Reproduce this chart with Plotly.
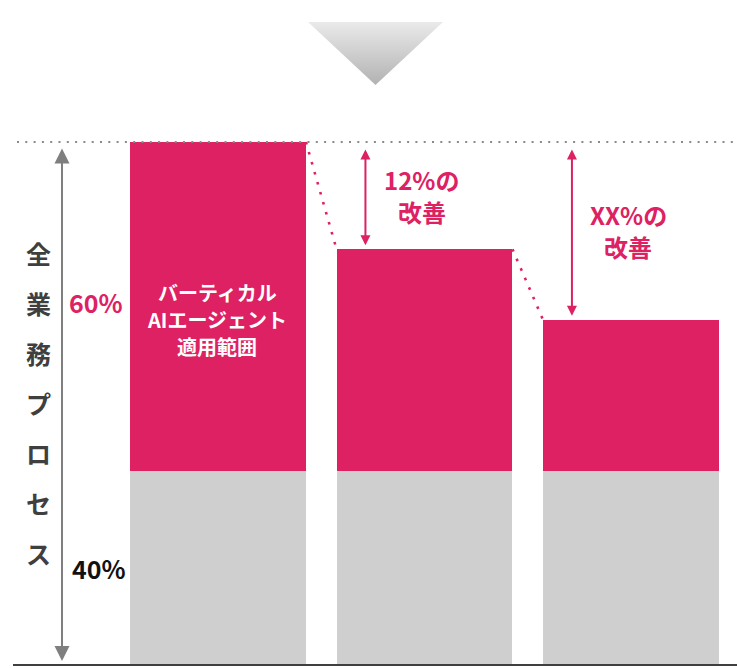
import plotly.graph_objects as go

# ---------------- data ----------------
categories = ["現状", "改善1", "改善2"]
base_values = [37, 37, 37]            # 40% 部分（グレー）
vertical_values = [63, 42.5, 29]      # バーティカルAIエージェント適用範囲（ピンク）
share_labels = ["60%", "40%"]
improve_labels = [["12%の", "改善"], ["XX%の", "改善"]]
axis_title_chars = list("全業務プロセス")
bar_inner_lines = ["バーティカル", "AIエージェント", "適用範囲"]

# ---------------- styles ----------------
PINK = "#DD2163"
GRAY_BAR = "#CFCFCF"
ARROW_GRAY = "#7F7F7F"
DARK = "#3F3F3F"
FONT = "Noto Sans CJK JP"
BAR_W = 0.852
W, H = 737, 668

totals = [b + v for b, v in zip(base_values, vertical_values)]
top = totals[0]
xs = list(range(len(categories)))

fig = go.Figure()
fig.add_trace(go.Bar(x=xs, y=base_values, width=BAR_W, marker=dict(color=GRAY_BAR, line=dict(width=0)),
                     hoverinfo="skip"))
fig.add_trace(go.Bar(x=xs, y=vertical_values, width=BAR_W, marker=dict(color=PINK, line=dict(width=0)),
                     hoverinfo="skip"))

# decorative triangle (pixel overlay axes)
tri_x = [308, 443, 375.5, 308]
tri_y = [22, 22, 85, 22]
fig.add_trace(go.Scatter(x=tri_x, y=tri_y, xaxis="x2", yaxis="y2", mode="lines",
                         line=dict(width=0), fill="toself",
                         fillgradient=dict(type="vertical", start=22, stop=85,
                                           colorscale=[[0, "#EAEAEA"], [1, "#B2B2B2"]]),
                         hoverinfo="skip"))

shapes = []
# baseline
shapes.append(dict(type="line", xref="x2", yref="y", x0=13, x1=W, y0=0, y1=0,
                   line=dict(color=DARK, width=2)))
# top dotted reference line
shapes.append(dict(type="line", xref="x2", yref="y", x0=17, x1=W, y0=top, y1=top,
                   line=dict(color="#8A8A8A", width=2, dash="2px,6.3px")))
# pink dotted connectors between bar tops
for i in range(len(xs) - 1):
    shapes.append(dict(type="line", xref="x", yref="y",
                       x0=xs[i] + BAR_W / 2, y0=totals[i],
                       x1=xs[i + 1] - BAR_W / 2, y1=totals[i + 1],
                       line=dict(color=PINK, width=2.6, dash="2.6px,7.8px")))

ann = []
# left double arrow
ann.append(dict(xref="x2", yref="y2", axref="x2", ayref="y2", x=62, y=661, ax=62, ay=147,
                text="", showarrow=True, arrowside="end+start", arrowhead=2, startarrowhead=2,
                arrowsize=1.5, startarrowsize=1.5, arrowwidth=2, arrowcolor=ARROW_GRAY))
# vertical title characters
for k, ch in enumerate(axis_title_chars):
    ann.append(dict(xref="x2", yref="y2", x=38, y=252.5 + 50 * k, text=ch, showarrow=False,
                    font=dict(family=FONT, size=25, color=DARK, weight=700)))
# share labels
ann.append(dict(xref="x", yref="y", x=-0.591, y=base_values[0] + vertical_values[0] / 2, yshift=5,
                text=share_labels[0], showarrow=False,
                font=dict(family=FONT, size=25, color=PINK, weight=700)))
ann.append(dict(xref="x", yref="y", x=-0.576, y=base_values[0] / 2,
                text=share_labels[1], showarrow=False,
                font=dict(family=FONT, size=25, color="#111111", weight=700)))
# text inside first pink bar
for j, line in enumerate(bar_inner_lines):
    ann.append(dict(xref="x", yref="y", x=xs[0], y=base_values[0] + vertical_values[0] / 2,
                    yshift=-13 - 27 * (j - 1), xshift=-1, text=line, showarrow=False,
                    borderpad=0, borderwidth=0,
                    font=dict(family=FONT, size=20, color="white", weight=700)))
# improvement arrows + labels
for i in range(1, len(xs)):
    ax_x = xs[i] - BAR_W / 2 + 0.14
    ann.append(dict(xref="x", yref="y", axref="x", ayref="y", x=ax_x, y=totals[i], ax=ax_x, ay=top,
                    text="", showarrow=True, arrowside="end+start", arrowhead=2, startarrowhead=2,
                    arrowsize=1, startarrowsize=1, arrowwidth=2, arrowcolor=PINK,
                    standoff=4, startstandoff=6))
    mid = (top + totals[i]) / 2
    l1, l2 = improve_labels[i - 1]
    ann.append(dict(xref="x", yref="y", x=xs[i], y=mid, yshift=16, xshift=-3, text=l1,
                    showarrow=False, font=dict(family=FONT, size=24, color=PINK, weight=700)))
    ann.append(dict(xref="x", yref="y", x=xs[i], y=mid, yshift=-16, xshift=-3, text=l2,
                    showarrow=False, font=dict(family=FONT, size=24, color=PINK, weight=700)))

px_per_x = 206.5
px_per_y = 5.23
x0_px, base_px = 218, 665

fig.update_layout(
    width=W, height=H, margin=dict(l=0, r=0, t=0, b=0),
    paper_bgcolor="white", plot_bgcolor="white",
    barmode="stack", showlegend=False,
    xaxis=dict(range=[-x0_px / px_per_x, (W - x0_px) / px_per_x], visible=False, fixedrange=True),
    yaxis=dict(range=[-(H - base_px) / px_per_y, base_px / px_per_y], visible=False, fixedrange=True),
    xaxis2=dict(overlaying="x", range=[0, W], visible=False, anchor="y2"),
    yaxis2=dict(overlaying="y", range=[H, 0], visible=False, anchor="x2"),
    shapes=shapes, annotations=ann,
)

fig.write_html("out.html", config={"displayModeBar": False},
               post_script="document.body.style.margin='0';document.body.style.overflow='hidden';")
